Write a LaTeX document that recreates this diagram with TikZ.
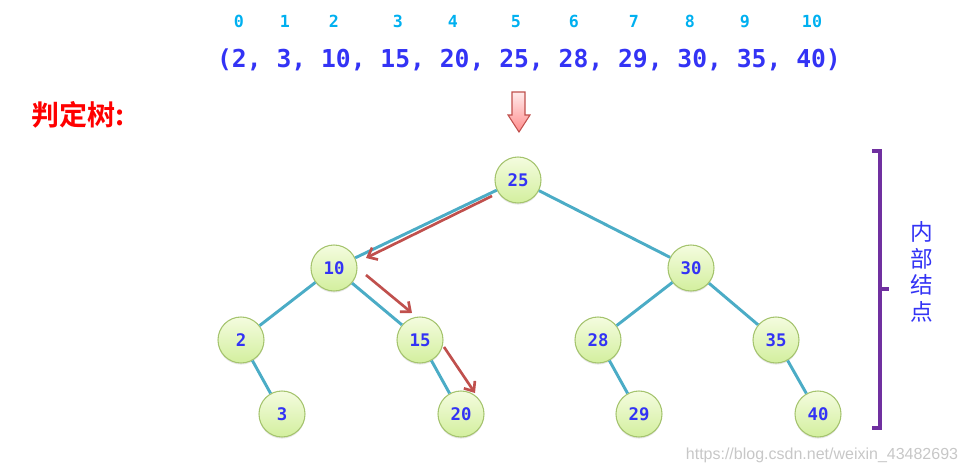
\documentclass[tikz,border=0pt]{standalone}
\usepackage{fontspec}
\setmonofont{DejaVu Sans Mono}
\newfontfamily\cjk[BoldFont={Noto Sans CJK SC Bold}]{Noto Sans CJK SC}
\newfontfamily\wmfont{Liberation Sans}
\usepackage{tikz}
\usetikzlibrary{arrows.meta,positioning,shadows}
\definecolor{keyblue}{HTML}{3333F5}
\definecolor{idxcyan}{HTML}{00B0F0}
\definecolor{edgeteal}{HTML}{4BACC6}
\definecolor{pathred}{HTML}{C0504D}
\definecolor{bracepurple}{HTML}{7030A0}
\definecolor{nodeline}{HTML}{A5C46E}
\definecolor{nodetop}{HTML}{F4FCDF}
\definecolor{nodebot}{HTML}{D3EF9E}

\begin{document}
\begin{tikzpicture}[x=0.75pt,y=-0.75pt,
  key/.style={circle,draw=nodeline,line width=0.8pt,top color=nodetop,bottom color=nodebot,minimum size=34.5pt,inner sep=0pt,font=\ttfamily\bfseries\fontsize{13}{14}\selectfont,text=keyblue,drop shadow={opacity=0.2,shadow xshift=0pt,shadow yshift=-1.2pt}},
  idx/.style={anchor=base,font=\ttfamily\bfseries\fontsize{12.5}{13}\selectfont,text=idxcyan},
  edge/.style={draw=edgeteal,line width=2.2pt},
  walk/.style={draw=pathred,line width=2pt,-{Straight Barb[length=6pt,width=10pt,line width=2pt]}}
]
\useasboundingbox (0,0) rectangle (967,473);

\foreach \i/\x in {0/239,1/285,2/334,3/398,4/453,5/516,6/574,7/634,8/690,9/745,10/812}
  \node[idx] (i\i) at (\x,28) {\i};
\node[font=\ttfamily\bfseries\fontsize{18.5}{20}\selectfont,text=keyblue] (seq) at (529,60) {(2, 3, 10, 15, 20, 25, 28, 29, 30, 35, 40)};
\node[font=\cjk\bfseries\fontsize{21}{23}\selectfont,text=red] (title) at (78,115) {判定树:};

\draw[draw=pathred,line width=0.8pt,top color=red!8,bottom color=red!45]
  (512,92) -- (525,92) -- (525,115) -- (530,115) -- (519,132) -- (508,115) -- (512,115) -- cycle;

\node[key] (k25) at (518,180) {25};
\node[key] (k10) at (334,268) {10};
\node[key] (k30) at (691,268) {30};
\node[key] (k2) at (241,340) {2};
\node[key] (k15) at (420,340) {15};
\node[key] (k28) at (598,340) {28};
\node[key] (k35) at (776,340) {35};
\node[key] (k3) at (282,414) {3};
\node[key] (k20) at (461,414) {20};
\node[key] (k29) at (639,414) {29};
\node[key] (k40) at (818,414) {40};

\draw[edge] (k25) -- (k10);
\draw[edge] (k25) -- (k30);
\draw[edge] (k10) -- (k2);
\draw[edge] (k10) -- (k15);
\draw[edge] (k30) -- (k28);
\draw[edge] (k30) -- (k35);
\draw[edge] (k2) -- (k3);
\draw[edge] (k15) -- (k20);
\draw[edge] (k28) -- (k29);
\draw[edge] (k35) -- (k40);

\coordinate (w1s) at ([shift={(-26,16)}]k25.center);
\coordinate (w1e) at ([shift={(32,-10)}]k10.center);
\coordinate (w2s) at ([shift={(32,7)}]k10.center);
\coordinate (w2e) at ([shift={(-8,-27)}]k15.center);
\coordinate (w3s) at ([shift={(24,7)}]k15.center);
\coordinate (w3e) at ([shift={(14,-21)}]k20.center);
\draw[walk] (w1s) -- (w1e);
\draw[walk] (w2s) -- (w2e);
\draw[walk] (w3s) -- (w3e);

\draw[draw=bracepurple,line width=3pt] (872,151) -- (880,151) -- (880,428) -- (872,428);
\draw[draw=bracepurple,line width=3pt] (880,289) -- (889,289);
\node[font=\cjk\fontsize{17}{20}\selectfont,text=keyblue,align=center] (inner) at (922,272) {内\\部\\结\\点};

\node[font=\wmfont\fontsize{12}{13}\selectfont,text=black!22] (wm) at (822,455) {https://blog.csdn.net/weixin\_43482693};
\end{tikzpicture}
\end{document}
